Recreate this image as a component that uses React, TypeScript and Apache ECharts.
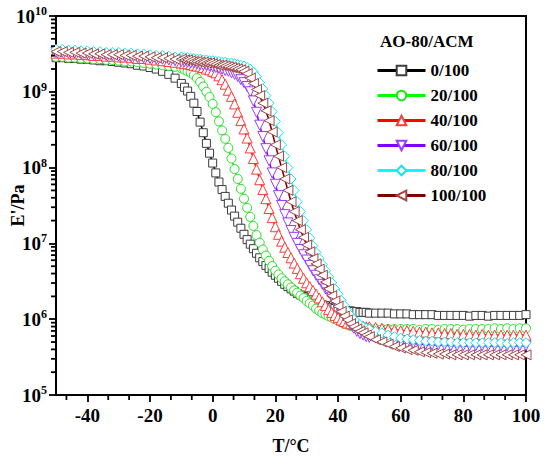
import React, { useEffect, useRef } from "react";
import * as echarts from "echarts";

// Temperature grid (°C)
const TEMPS = [
  -50, -48, -46, -44, -42, -40, -38, -36, -34, -32, -30, -28, -26, -24, -22, -20, -18, -16, -14, -12,
  -10, -9, -8, -7, -6, -5, -4, -3, -2, -1,
  0, 1, 2, 3, 4, 5, 6, 7, 8, 9,
  10, 11, 12, 13, 14, 15, 16, 17, 18, 19,
  20, 21, 22, 23, 24, 25, 26, 27, 28, 29,
  30, 31, 32, 33, 34, 35, 36, 37, 38, 39,
  40, 41, 42, 43, 44, 45, 46, 47, 48, 49,
  50,
  52, 54, 56, 58, 60, 62, 64, 66, 68, 70, 72, 74, 76, 78, 80, 82, 84, 86, 88, 90, 92, 94, 96, 98, 100,
];

// log10(E'/Pa), one array per AO-80/ACM ratio
const LOG_E_0_100 = [
  9.45, 9.45, 9.44, 9.44, 9.43, 9.43, 9.42, 9.41, 9.41, 9.40, 9.39, 9.38, 9.37, 9.35, 9.34, 9.32, 9.30, 9.27, 9.23, 9.18,
  9.11, 9.06, 9.01, 8.94, 8.85, 8.74, 8.60, 8.46, 8.32, 8.19,
  8.06, 7.93, 7.81, 7.71, 7.62, 7.53, 7.44, 7.36, 7.28, 7.20,
  7.12, 7.05, 6.99, 6.93, 6.87, 6.81, 6.76, 6.71, 6.67, 6.62,
  6.58, 6.54, 6.50, 6.46, 6.43, 6.40, 6.37, 6.34, 6.32, 6.30,
  6.28, 6.26, 6.24, 6.22, 6.21, 6.19, 6.18, 6.16, 6.15, 6.14,
  6.13, 6.12, 6.12, 6.11, 6.11, 6.10, 6.10, 6.09, 6.09, 6.09,
  6.08,
  6.08, 6.08, 6.08, 6.07, 6.07, 6.07, 6.06, 6.06, 6.06, 6.06, 6.05, 6.05, 6.05, 6.05, 6.05, 6.04, 6.05, 6.05, 6.04, 6.05, 6.05, 6.05, 6.05, 6.05, 6.06,
];

const LOG_E_20_100 = [
  9.46, 9.46, 9.45, 9.45, 9.44, 9.44, 9.43, 9.43, 9.42, 9.42, 9.41, 9.40, 9.40, 9.39, 9.38, 9.37, 9.36, 9.35, 9.34, 9.33,
  9.31, 9.29, 9.27, 9.25, 9.22, 9.18, 9.13, 9.07, 9.00, 8.93,
  8.84, 8.73, 8.61, 8.49, 8.38, 8.26, 8.12, 7.98, 7.85, 7.72,
  7.59, 7.47, 7.35, 7.23, 7.11, 7.01, 6.92, 6.84, 6.77, 6.70,
  6.64, 6.59, 6.54, 6.50, 6.46, 6.42, 6.38, 6.35, 6.31, 6.28,
  6.24, 6.21, 6.18, 6.14, 6.11, 6.08, 6.06, 6.04, 6.02, 6.00,
  5.98, 5.96, 5.94, 5.93, 5.91, 5.90, 5.89, 5.89, 5.88, 5.88,
  5.88,
  5.87, 5.87, 5.87, 5.87, 5.87, 5.87, 5.87, 5.86, 5.87, 5.87, 5.86, 5.87, 5.87, 5.87, 5.86, 5.87, 5.87, 5.87, 5.87, 5.88, 5.87, 5.88, 5.87, 5.88, 5.88,
];

const LOG_E_40_100 = [
  9.51, 9.51, 9.50, 9.50, 9.49, 9.49, 9.48, 9.48, 9.47, 9.47, 9.46, 9.46, 9.45, 9.44, 9.44, 9.43, 9.42, 9.41, 9.40, 9.39,
  9.38, 9.37, 9.37, 9.36, 9.35, 9.34, 9.33, 9.32, 9.30, 9.29,
  9.27, 9.25, 9.21, 9.16, 9.10, 9.02, 8.94, 8.84, 8.73, 8.62,
  8.51, 8.39, 8.26, 8.12, 7.98, 7.84, 7.71, 7.59, 7.46, 7.34,
  7.22, 7.12, 7.03, 6.95, 6.88, 6.81, 6.74, 6.67, 6.60, 6.54,
  6.48, 6.43, 6.38, 6.33, 6.28, 6.23, 6.18, 6.13, 6.09, 6.05,
  6.02, 5.99, 5.97, 5.95, 5.94, 5.93, 5.92, 5.91, 5.91, 5.90,
  5.90,
  5.89, 5.88, 5.87, 5.86, 5.85, 5.85, 5.84, 5.83, 5.83, 5.82, 5.82, 5.81, 5.81, 5.80, 5.80, 5.80, 5.79, 5.80, 5.79, 5.79, 5.79, 5.79, 5.79, 5.79, 5.79,
];

const LOG_E_60_100 = [
  9.52, 9.52, 9.51, 9.51, 9.50, 9.50, 9.49, 9.49, 9.48, 9.48, 9.47, 9.47, 9.46, 9.45, 9.45, 9.44, 9.43, 9.43, 9.42, 9.41,
  9.40, 9.40, 9.39, 9.38, 9.38, 9.37, 9.36, 9.35, 9.35, 9.34,
  9.33, 9.32, 9.31, 9.30, 9.28, 9.27, 9.25, 9.23, 9.20, 9.16,
  9.12, 9.07, 9.00, 8.88, 8.73, 8.56, 8.41, 8.25, 8.09, 7.93,
  7.78, 7.63, 7.50, 7.38, 7.27, 7.17, 7.08, 7.00, 6.92, 6.85,
  6.78, 6.71, 6.64, 6.58, 6.52, 6.46, 6.40, 6.35, 6.29, 6.23,
  6.17, 6.11, 6.05, 5.99, 5.93, 5.88, 5.84, 5.81, 5.79, 5.77,
  5.76,
  5.75, 5.73, 5.71, 5.70, 5.69, 5.68, 5.68, 5.67, 5.67, 5.66, 5.66, 5.66, 5.65, 5.65, 5.65, 5.65, 5.65, 5.65, 5.65, 5.65, 5.65, 5.65, 5.65, 5.65, 5.65,
];

const LOG_E_80_100 = [
  9.56, 9.56, 9.55, 9.55, 9.54, 9.54, 9.53, 9.53, 9.52, 9.52, 9.52, 9.51, 9.51, 9.50, 9.50, 9.49, 9.48, 9.48, 9.47, 9.46,
  9.46, 9.45, 9.45, 9.44, 9.44, 9.43, 9.43, 9.42, 9.42, 9.41,
  9.41, 9.40, 9.40, 9.39, 9.39, 9.38, 9.38, 9.37, 9.36, 9.35,
  9.34, 9.32, 9.30, 9.26, 9.20, 9.12, 9.04, 8.95, 8.85, 8.74,
  8.61, 8.46, 8.30, 8.15, 8.00, 7.85, 7.70, 7.55, 7.42, 7.30,
  7.18, 7.07, 6.97, 6.88, 6.80, 6.72, 6.64, 6.56, 6.48, 6.40,
  6.33, 6.25, 6.18, 6.11, 6.05, 6.00, 5.96, 5.93, 5.90, 5.88,
  5.87,
  5.84, 5.82, 5.79, 5.77, 5.75, 5.74, 5.73, 5.72, 5.71, 5.71, 5.70, 5.70, 5.70, 5.69, 5.69, 5.69, 5.69, 5.69, 5.69, 5.69, 5.69, 5.68, 5.69, 5.69, 5.69,
];

const LOG_E_100_100 = [
  9.53, 9.53, 9.52, 9.52, 9.51, 9.51, 9.50, 9.50, 9.49, 9.49, 9.49, 9.48, 9.48, 9.47, 9.47, 9.46, 9.45, 9.45, 9.44, 9.43,
  9.43, 9.42, 9.42, 9.41, 9.40, 9.40, 9.39, 9.39, 9.38, 9.38,
  9.37, 9.36, 9.35, 9.35, 9.34, 9.33, 9.32, 9.31, 9.30, 9.29,
  9.27, 9.24, 9.18, 9.11, 9.03, 8.95, 8.85, 8.75, 8.62, 8.47,
  8.30, 8.15, 8.00, 7.85, 7.70, 7.55, 7.42, 7.30, 7.18, 7.08,
  6.98, 6.89, 6.80, 6.73, 6.66, 6.58, 6.49, 6.40, 6.31, 6.24,
  6.17, 6.10, 6.04, 5.99, 5.94, 5.90, 5.87, 5.84, 5.82, 5.79,
  5.77,
  5.73, 5.70, 5.67, 5.64, 5.62, 5.60, 5.59, 5.57, 5.56, 5.55, 5.54, 5.54, 5.53, 5.53, 5.53, 5.53, 5.53, 5.53, 5.53, 5.53, 5.53, 5.53, 5.53, 5.53, 5.53,
];

const SERIES_NAMES = ["0/100", "20/100", "40/100", "60/100", "80/100", "100/100"];
const SERIES_LOGS = [LOG_E_0_100, LOG_E_20_100, LOG_E_40_100, LOG_E_60_100, LOG_E_80_100, LOG_E_100_100];
const LEGEND_TITLE = "AO-80/ACM";
const X_TITLE = "T/°C";
const Y_TITLE = "E'/Pa";

const X_MIN = -50;
const X_MAX = 100;
const X_TICKS = [-40, -20, 0, 20, 40, 60, 80, 100];
const X_MINOR_TICKS = [
  -46.67, -33.33, -26.67, -13.33, -6.67, 6.67, 13.33, 26.67, 33.33, 46.67, 53.33, 66.67, 73.33, 86.67, 93.33,
];
const Y_MIN = 1e5;
const Y_MAX = 1e10;
const Y_TICKS = [1e5, 1e6, 1e7, 1e8, 1e9, 1e10];
const Y_MINOR_TICKS = [
  2e5, 3e5, 4e5, 5e5, 6e5, 7e5, 8e5, 9e5,
  2e6, 3e6, 4e6, 5e6, 6e6, 7e6, 8e6, 9e6,
  2e7, 3e7, 4e7, 5e7, 6e7, 7e7, 8e7, 9e7,
  2e8, 3e8, 4e8, 5e8, 6e8, 7e8, 8e8, 9e8,
  2e9, 3e9, 4e9, 5e9, 6e9, 7e9, 8e9, 9e9,
];

const STYLES = [
  { symbol: "rect", rotate: 0, line: "#000000", mark: "#3c3c3c", size: 8 },
  { symbol: "circle", rotate: 0, line: "#00ff00", mark: "#22e022", size: 9 },
  { symbol: "triangle", rotate: 0, line: "#ff0000", mark: "#ff3a3a", size: 10 },
  { symbol: "triangle", rotate: 180, line: "#8000ff", mark: "#9a3cff", size: 10 },
  { symbol: "diamond", rotate: 0, line: "#00ffff", mark: "#10e6f0", size: 10 },
  { symbol: "triangle", rotate: 90, line: "#800000", mark: "#a04848", size: 10 },
];

const FONT = "Liberation Serif";

function tickSeries(name: string, values: number[], horizontalAxis: boolean, len: number) {
  return {
    type: "custom",
    name,
    silent: true,
    clip: false,
    z: 20,
    data: values.map((v) => (horizontalAxis ? [v, Y_MIN] : [X_MIN, v])),
    encode: { x: 0, y: 1 },
    renderItem: (_params: any, api: any) => {
      const p = api.coord([api.value(0), api.value(1)]);
      const shape = horizontalAxis
        ? { x1: p[0], y1: p[1] + 1, x2: p[0], y2: p[1] + 1 + len }
        : { x1: p[0] - 1, y1: p[1], x2: p[0] - 1 - len, y2: p[1] };
      return { type: "line", shape, style: { stroke: "#000000", lineWidth: 1.8, fill: null } };
    },
  };
}

export default function App() {
  const ref = useRef<HTMLDivElement>(null);

  useEffect(() => {
    if (!ref.current) return;
    const chart = echarts.init(ref.current, undefined, { renderer: "svg" });

    const series: any[] = SERIES_NAMES.map((name, k) => {
      const st = STYLES[k];
      return {
        type: "line",
        name,
        data: TEMPS.map((t, i) => [t, Math.pow(10, SERIES_LOGS[k][i])]),
        symbol: st.symbol,
        symbolSize: st.size,
        symbolRotate: st.rotate,
        lineStyle: { color: st.line, width: 1.6 },
        itemStyle: { color: "#ffffff", borderColor: st.mark, borderWidth: 1 },
        emphasis: { disabled: true },
        z: 2 + k,
      };
    });
    series.push(tickSeries("xMinorTicks", X_MINOR_TICKS, true, 4));
    series.push(tickSeries("yMinorTicks", Y_MINOR_TICKS, false, 4));

    chart.setOption({
      animation: false,
      backgroundColor: "#ffffff",
      title: {
        text: LEGEND_TITLE,
        left: 380,
        top: 33,
        textStyle: { fontFamily: FONT, fontWeight: "bold", fontSize: 17, color: "#000" },
        padding: 0,
      },
      legend: {
        data: SERIES_NAMES,
        orient: "vertical",
        left: 376,
        top: 62,
        itemWidth: 48,
        itemHeight: 12,
        itemGap: 8,
        padding: 0,
        lineStyle: { width: 3 },
        textStyle: { fontFamily: FONT, fontWeight: "bold", fontSize: 17, lineHeight: 17, color: "#000" },
      },
      grid: {
        left: 56,
        right: 24,
        top: 16,
        bottom: 66,
        containLabel: false,
        outerBoundsMode: "none",
        show: true,
        borderColor: "#000",
        borderWidth: 2,
        backgroundColor: "transparent",
      },
      xAxis: {
        type: "value",
        min: X_MIN,
        max: X_MAX,
        position: "bottom",
        name: X_TITLE,
        nameLocation: "middle",
        nameGap: 42,
        nameMoveOverlap: false,
        nameTextStyle: { fontFamily: FONT, fontWeight: "bold", fontSize: 18, color: "#000" },
        axisLine: { show: true, onZero: false, lineStyle: { color: "#000", width: 2 } },
        axisTick: { show: true, inside: false, length: 7, lineStyle: { color: "#000", width: 1.8 }, customValues: X_TICKS },
        axisLabel: {
          customValues: X_TICKS,
          margin: 11,
          fontFamily: FONT,
          fontWeight: "bold",
          fontSize: 19,
          color: "#000",
        },
        splitLine: { show: false },
      },
      yAxis: {
        type: "log",
        logBase: 10,
        min: Y_MIN,
        max: Y_MAX,
        position: "left",
        name: Y_TITLE,
        nameLocation: "middle",
        nameRotate: 90,
        nameGap: 29,
        nameMoveOverlap: false,
        nameTextStyle: { fontFamily: FONT, fontWeight: "bold", fontSize: 18, color: "#000" },
        axisLine: { show: true, onZero: false, lineStyle: { color: "#000", width: 2 } },
        axisTick: { show: true, inside: false, length: 7, lineStyle: { color: "#000", width: 1.8 }, customValues: Y_TICKS },
        axisLabel: {
          customValues: Y_TICKS,
          margin: 9,
          formatter: (v: number) => `{b|10}{s|${Math.round(Math.log10(v))}}`,
          rich: {
            b: { fontFamily: FONT, fontWeight: "bold", fontSize: 19, color: "#000" },
            s: { fontFamily: FONT, fontWeight: "bold", fontSize: 12, color: "#000", padding: [0, 0, 10, 0] },
          },
        },
        splitLine: { show: false },
      },
      series,
    });

    return () => chart.dispose();
  }, []);

  return (
    <div
      ref={ref}
      style={{ position: "fixed", left: 0, top: 0, width: 550, height: 461, background: "#fff" }}
    />
  );
}
